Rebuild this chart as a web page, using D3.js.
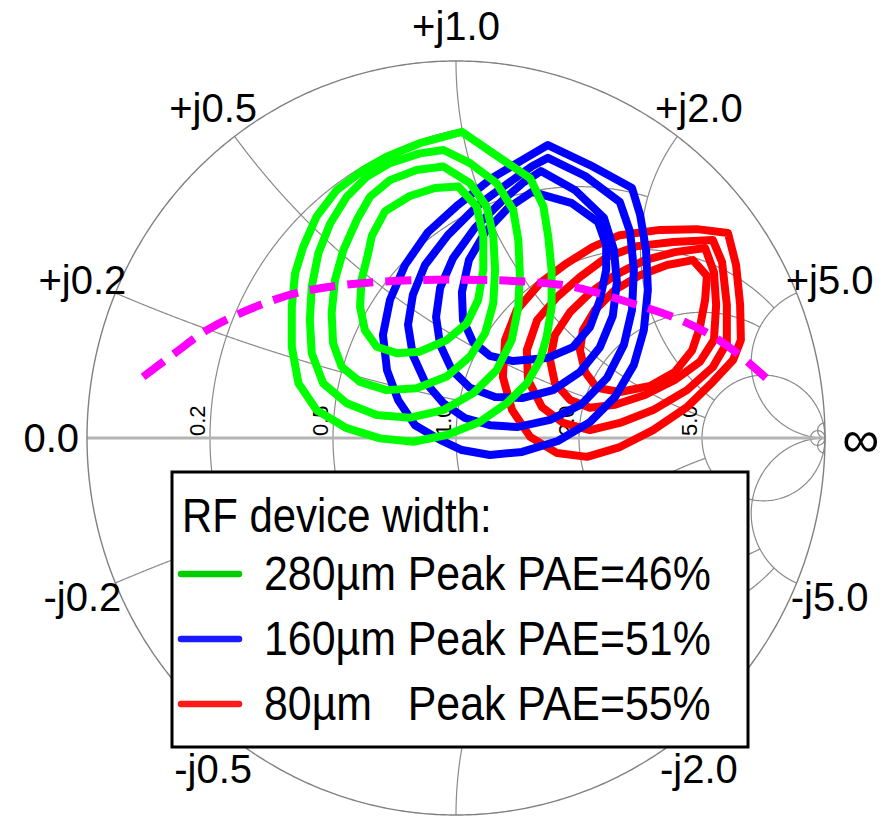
<!DOCTYPE html>
<html>
<head>
<meta charset="utf-8">
<script src="https://cdn.jsdelivr.net/npm/d3@7"></script>
<style>
  html, body { margin: 0; padding: 0; background: #ffffff; }
  svg { display: block; }
  text { font-family: "Liberation Sans", Arial, Helvetica, sans-serif; fill: #000; }
</style>
</head>
<body>
<svg id="chart" width="889" height="817"></svg>
<script>
// ---- Smith chart grid definition -------------------------------------------
const resistanceValues = [0.2, 0.5, 1, 2, 5];
const resistanceReach  = [1, 2, 5, 5, Infinity];   // reactance span drawn for each r circle
const reactanceValues  = [0.2, 0.5, 1, 2, 5];
const reactanceReach   = [1, 2, 5, 5, Infinity];   // resistance span drawn for each x arc
const infinityMarker   = 50;                      // tiny r / x circles at the open-circuit point

const rimLabels = [
  { text: "+j1.0", x: 1 },   { text: "+j0.5", x: 0.5 }, { text: "+j2.0", x: 2 },
  { text: "+j0.2", x: 0.2 }, { text: "+j5.0", x: 5 },   { text: "0.0", x: 0 },
  { text: "\u221E", x: Infinity },
  { text: "-j0.2", x: -0.2 }, { text: "-j5.0", x: -5 },
  { text: "-j0.5", x: -0.5 }, { text: "-j2.0", x: -2 }
];
const realAxisLabels = ["0.2", "0.5", "1.0", "2.0", "5.0"];

// ---- Load-pull PAE contours, reflection coefficient [re, im] ----------------
const pae280 = [
  [[0.016,0.812],[0.101,0.755],[0.201,0.689],[0.237,0.614],[0.250,0.534],[0.259,0.446],[0.259,0.348],[0.246,0.269],[0.228,0.207],[0.192,0.145],[0.137,0.092],[0.065,0.043],[-0.025,0.008],[-0.116,-0.010],[-0.206,-0.001],[-0.296,0.026],[-0.378,0.074],[-0.427,0.145],[-0.445,0.242],[-0.445,0.348],[-0.436,0.437],[-0.414,0.507],[-0.378,0.587],[-0.323,0.658],[-0.251,0.711],[-0.188,0.746],[-0.098,0.782]],
  [[-0.034,0.764],[0.038,0.729],[0.110,0.676],[0.155,0.605],[0.169,0.525],[0.173,0.437],[0.169,0.348],[0.151,0.260],[0.110,0.180],[0.047,0.119],[-0.034,0.074],[-0.125,0.054],[-0.215,0.061],[-0.296,0.092],[-0.360,0.145],[-0.391,0.225],[-0.396,0.313],[-0.391,0.401],[-0.373,0.490],[-0.341,0.569],[-0.296,0.640],[-0.242,0.693],[-0.179,0.729],[-0.098,0.755]],
  [[-0.034,0.720],[0.038,0.676],[0.083,0.614],[0.101,0.534],[0.106,0.446],[0.101,0.357],[0.079,0.278],[0.038,0.216],[-0.025,0.163],[-0.107,0.132],[-0.188,0.127],[-0.260,0.149],[-0.310,0.189],[-0.333,0.251],[-0.337,0.331],[-0.328,0.419],[-0.305,0.499],[-0.269,0.578],[-0.233,0.640],[-0.179,0.684],[-0.107,0.711]],
  [[0.006,0.667],[0.056,0.614],[0.074,0.534],[0.074,0.446],[0.060,0.366],[0.029,0.304],[-0.025,0.260],[-0.098,0.229],[-0.161,0.225],[-0.215,0.242],[-0.247,0.286],[-0.260,0.348],[-0.256,0.419],[-0.238,0.490],[-0.228,0.536],[-0.192,0.602],[-0.125,0.642],[-0.057,0.663]]
];
const pae160 = [
  [[0.249,0.777],[0.363,0.724],[0.477,0.663],[0.499,0.592],[0.515,0.499],[0.520,0.393],[0.509,0.286],[0.482,0.194],[0.431,0.109],[0.363,0.042],[0.276,-0.008],[0.179,-0.037],[0.092,-0.045],[0.016,-0.032],[-0.043,-0.005],[-0.111,0.034],[-0.157,0.101],[-0.187,0.180],[-0.198,0.273],[-0.179,0.366],[-0.138,0.459],[-0.076,0.546],[0.005,0.618],[0.098,0.690],[0.179,0.737]],
  [[0.249,0.743],[0.350,0.695],[0.444,0.626],[0.472,0.546],[0.482,0.446],[0.477,0.340],[0.455,0.247],[0.409,0.159],[0.341,0.090],[0.255,0.048],[0.165,0.029],[0.092,0.034],[0.024,0.053],[-0.035,0.093],[-0.084,0.149],[-0.117,0.220],[-0.130,0.300],[-0.117,0.379],[-0.084,0.459],[-0.022,0.538],[0.060,0.618],[0.146,0.679],[0.206,0.721]],
  [[0.230,0.708],[0.322,0.658],[0.401,0.584],[0.428,0.499],[0.436,0.414],[0.425,0.324],[0.390,0.241],[0.336,0.175],[0.263,0.127],[0.179,0.106],[0.106,0.109],[0.038,0.133],[-0.011,0.180],[-0.043,0.247],[-0.054,0.321],[-0.043,0.398],[-0.008,0.477],[0.051,0.557],[0.127,0.631],[0.184,0.679]],
  [[0.206,0.653],[0.314,0.623],[0.385,0.573],[0.407,0.512],[0.407,0.446],[0.390,0.366],[0.363,0.294],[0.317,0.241],[0.247,0.212],[0.154,0.204],[0.092,0.218],[0.046,0.255],[0.019,0.313],[0.016,0.387],[0.035,0.472],[0.079,0.546],[0.141,0.610]]
];
const pae80 = [
  [[0.737,0.544],[0.759,0.459],[0.770,0.353],[0.772,0.260],[0.751,0.207],[0.696,0.149],[0.626,0.082],[0.534,0.021],[0.444,-0.024],[0.355,-0.050],[0.274,-0.040],[0.201,0.003],[0.152,0.074],[0.127,0.162],[0.133,0.260],[0.165,0.340],[0.228,0.411],[0.301,0.464],[0.371,0.507],[0.444,0.538],[0.553,0.552],[0.653,0.554]],
  [[0.696,0.525],[0.721,0.467],[0.734,0.353],[0.734,0.252],[0.696,0.188],[0.626,0.127],[0.534,0.074],[0.444,0.040],[0.363,0.021],[0.290,0.040],[0.233,0.082],[0.195,0.154],[0.192,0.233],[0.220,0.313],[0.274,0.374],[0.336,0.427],[0.409,0.480],[0.491,0.509],[0.588,0.520]],
  [[0.675,0.504],[0.699,0.440],[0.705,0.353],[0.699,0.260],[0.661,0.202],[0.593,0.154],[0.512,0.114],[0.431,0.088],[0.363,0.080],[0.309,0.101],[0.268,0.146],[0.255,0.207],[0.268,0.273],[0.309,0.334],[0.363,0.385],[0.431,0.432],[0.512,0.472],[0.593,0.493]],
  [[0.642,0.472],[0.680,0.430],[0.675,0.366],[0.661,0.294],[0.640,0.233],[0.593,0.175],[0.526,0.138],[0.444,0.122],[0.382,0.133],[0.350,0.175],[0.336,0.233],[0.344,0.286],[0.377,0.340],[0.431,0.393],[0.499,0.432],[0.572,0.459]]
];
// dashed boundary trace
const boundary = [[-0.848,0.162],[-0.762,0.225],[-0.675,0.286],[-0.558,0.342],[-0.431,0.385],[-0.287,0.408],[-0.098,0.419],[0.084,0.419],[0.201,0.414],[0.317,0.401],[0.491,0.353],[0.588,0.321],[0.680,0.279],[0.762,0.225],[0.840,0.159]];

const seriesNames  = ["280\u00B5m Peak PAE=46%", "160\u00B5m Peak PAE=51%", "80\u00B5m   Peak PAE=55%"];
const legendTitle  = "RF device width:";

// ---- drawing ---------------------------------------------------------------
const svg = d3.select("#chart");
const cx = 456, cy = 438, rx = 369, ry = 377;
const X = d3.scaleLinear().domain([-1, 1]).range([cx - rx, cx + rx]);
const Y = d3.scaleLinear().domain([-1, 1]).range([cy + ry, cy - ry]);
const line = d3.line().x(d => X(d[0])).y(d => Y(d[1]));

function gamma(r, x) {
  const d = (r + 1) * (r + 1) + x * x;
  return [(r * r + x * x - 1) / d, (2 * x) / d];
}
const EDGE = Math.PI / 2 - 1e-7;

function resistancePath(r, reach) {
  const U = isFinite(reach) ? Math.atan(reach) : EDGE;
  return d3.range(0, 801).map(i => gamma(r, Math.tan(-U + 2 * U * i / 800)));
}
function reactancePath(x, reach) {
  const U = isFinite(reach) ? Math.atan(reach) : EDGE;
  return d3.range(0, 601).map(i => gamma(Math.tan(U * i / 600), x));
}

const grid = svg.append("g").attr("fill", "none").attr("stroke", "#8a8a8a").attr("stroke-width", 1.2);
resistanceValues.forEach((r, i) => grid.append("path").attr("d", line(resistancePath(r, resistanceReach[i]))));
reactanceValues.forEach((x, i) => {
  grid.append("path").attr("d", line(reactancePath(x, reactanceReach[i])));
  grid.append("path").attr("d", line(reactancePath(-x, reactanceReach[i])));
});
grid.append("path").attr("d", line(resistancePath(infinityMarker, Infinity)));
grid.append("path").attr("d", line(reactancePath(infinityMarker, Infinity)));
grid.append("path").attr("d", line(reactancePath(-infinityMarker, Infinity)));

// real axis
svg.append("line")
  .attr("x1", X(-1)).attr("x2", X(1)).attr("y1", Y(0)).attr("y2", Y(0))
  .attr("stroke", "#b4b4b4").attr("stroke-width", 3);
// outer rim
svg.append("path").attr("d", line(resistancePath(0, Infinity)))
  .attr("fill", "none").attr("stroke", "#808080").attr("stroke-width", 1.4);

// rotated labels on the real axis
svg.append("g").selectAll("text").data(resistanceValues).join("text")
  .attr("transform", r => `translate(${X((r - 1) / (r + 1)) - 5},${Y(0) - 2}) rotate(-90)`)
  .attr("font-size", 22)
  .text((r, i) => realAxisLabels[i]);

// rim labels
function rimPoint(x) {
  if (x === 0) return [-1, 0];
  if (!isFinite(x)) return [1, 0];
  return gamma(0, x);
}
svg.append("g").selectAll("text").data(rimLabels).join("text")
  .attr("x", d => X(rimPoint(d.x)[0] * 1.097))
  .attr("y", d => Y(rimPoint(d.x)[1] * 1.095))
  .attr("dy", "0.36em")
  .attr("text-anchor", "middle")
  .attr("font-size", d => isFinite(d.x) ? 40 : 52)
  .text(d => d.text);

// contours
const contourSets = [
  { data: pae80,  color: "#ff0000" },
  { data: pae160, color: "#0000ff" },
  { data: pae280, color: "#00ff00" }
];
const closed = d3.line().x(d => X(d[0])).y(d => Y(d[1])).curve(d3.curveLinearClosed);
contourSets.forEach(s => {
  svg.append("g").selectAll("path").data(s.data).join("path")
    .attr("d", closed)
    .attr("fill", "none")
    .attr("stroke", s.color)
    .attr("stroke-width", 8)
    .attr("stroke-linejoin", "round");
});

// dashed trace
svg.append("path")
  .attr("d", d3.line().x(d => X(d[0])).y(d => Y(d[1])).curve(d3.curveCatmullRom)(boundary))
  .attr("fill", "none")
  .attr("stroke", "#ff00ff")
  .attr("stroke-width", 8)
  .attr("stroke-dasharray", "26,12");

// legend
const legend = svg.append("g");
legend.append("rect")
  .attr("x", 172).attr("y", 472).attr("width", 576).attr("height", 275)
  .attr("fill", "#ffffff").attr("stroke", "#000").attr("stroke-width", 3);
legend.append("text")
  .attr("transform", "translate(182,532) scale(0.855,1)")
  .attr("font-size", 49)
  .text(legendTitle);
const legendColors = ["#00cc00", "#1a1aff", "#ff1a1a"];
const rowBase = [590, 655, 720];
seriesNames.forEach((name, i) => {
  legend.append("line")
    .attr("x1", 181).attr("x2", 239)
    .attr("y1", rowBase[i] - 16).attr("y2", rowBase[i] - 16)
    .attr("stroke", legendColors[i]).attr("stroke-width", 6.5)
    .attr("stroke-linecap", "round");
  legend.append("text")
    .attr("transform", `translate(264,${rowBase[i]}) scale(0.875,1)`)
    .attr("font-size", 49)
    .style("white-space", "pre")
    .text(name);
});
</script>
</body>
</html>
